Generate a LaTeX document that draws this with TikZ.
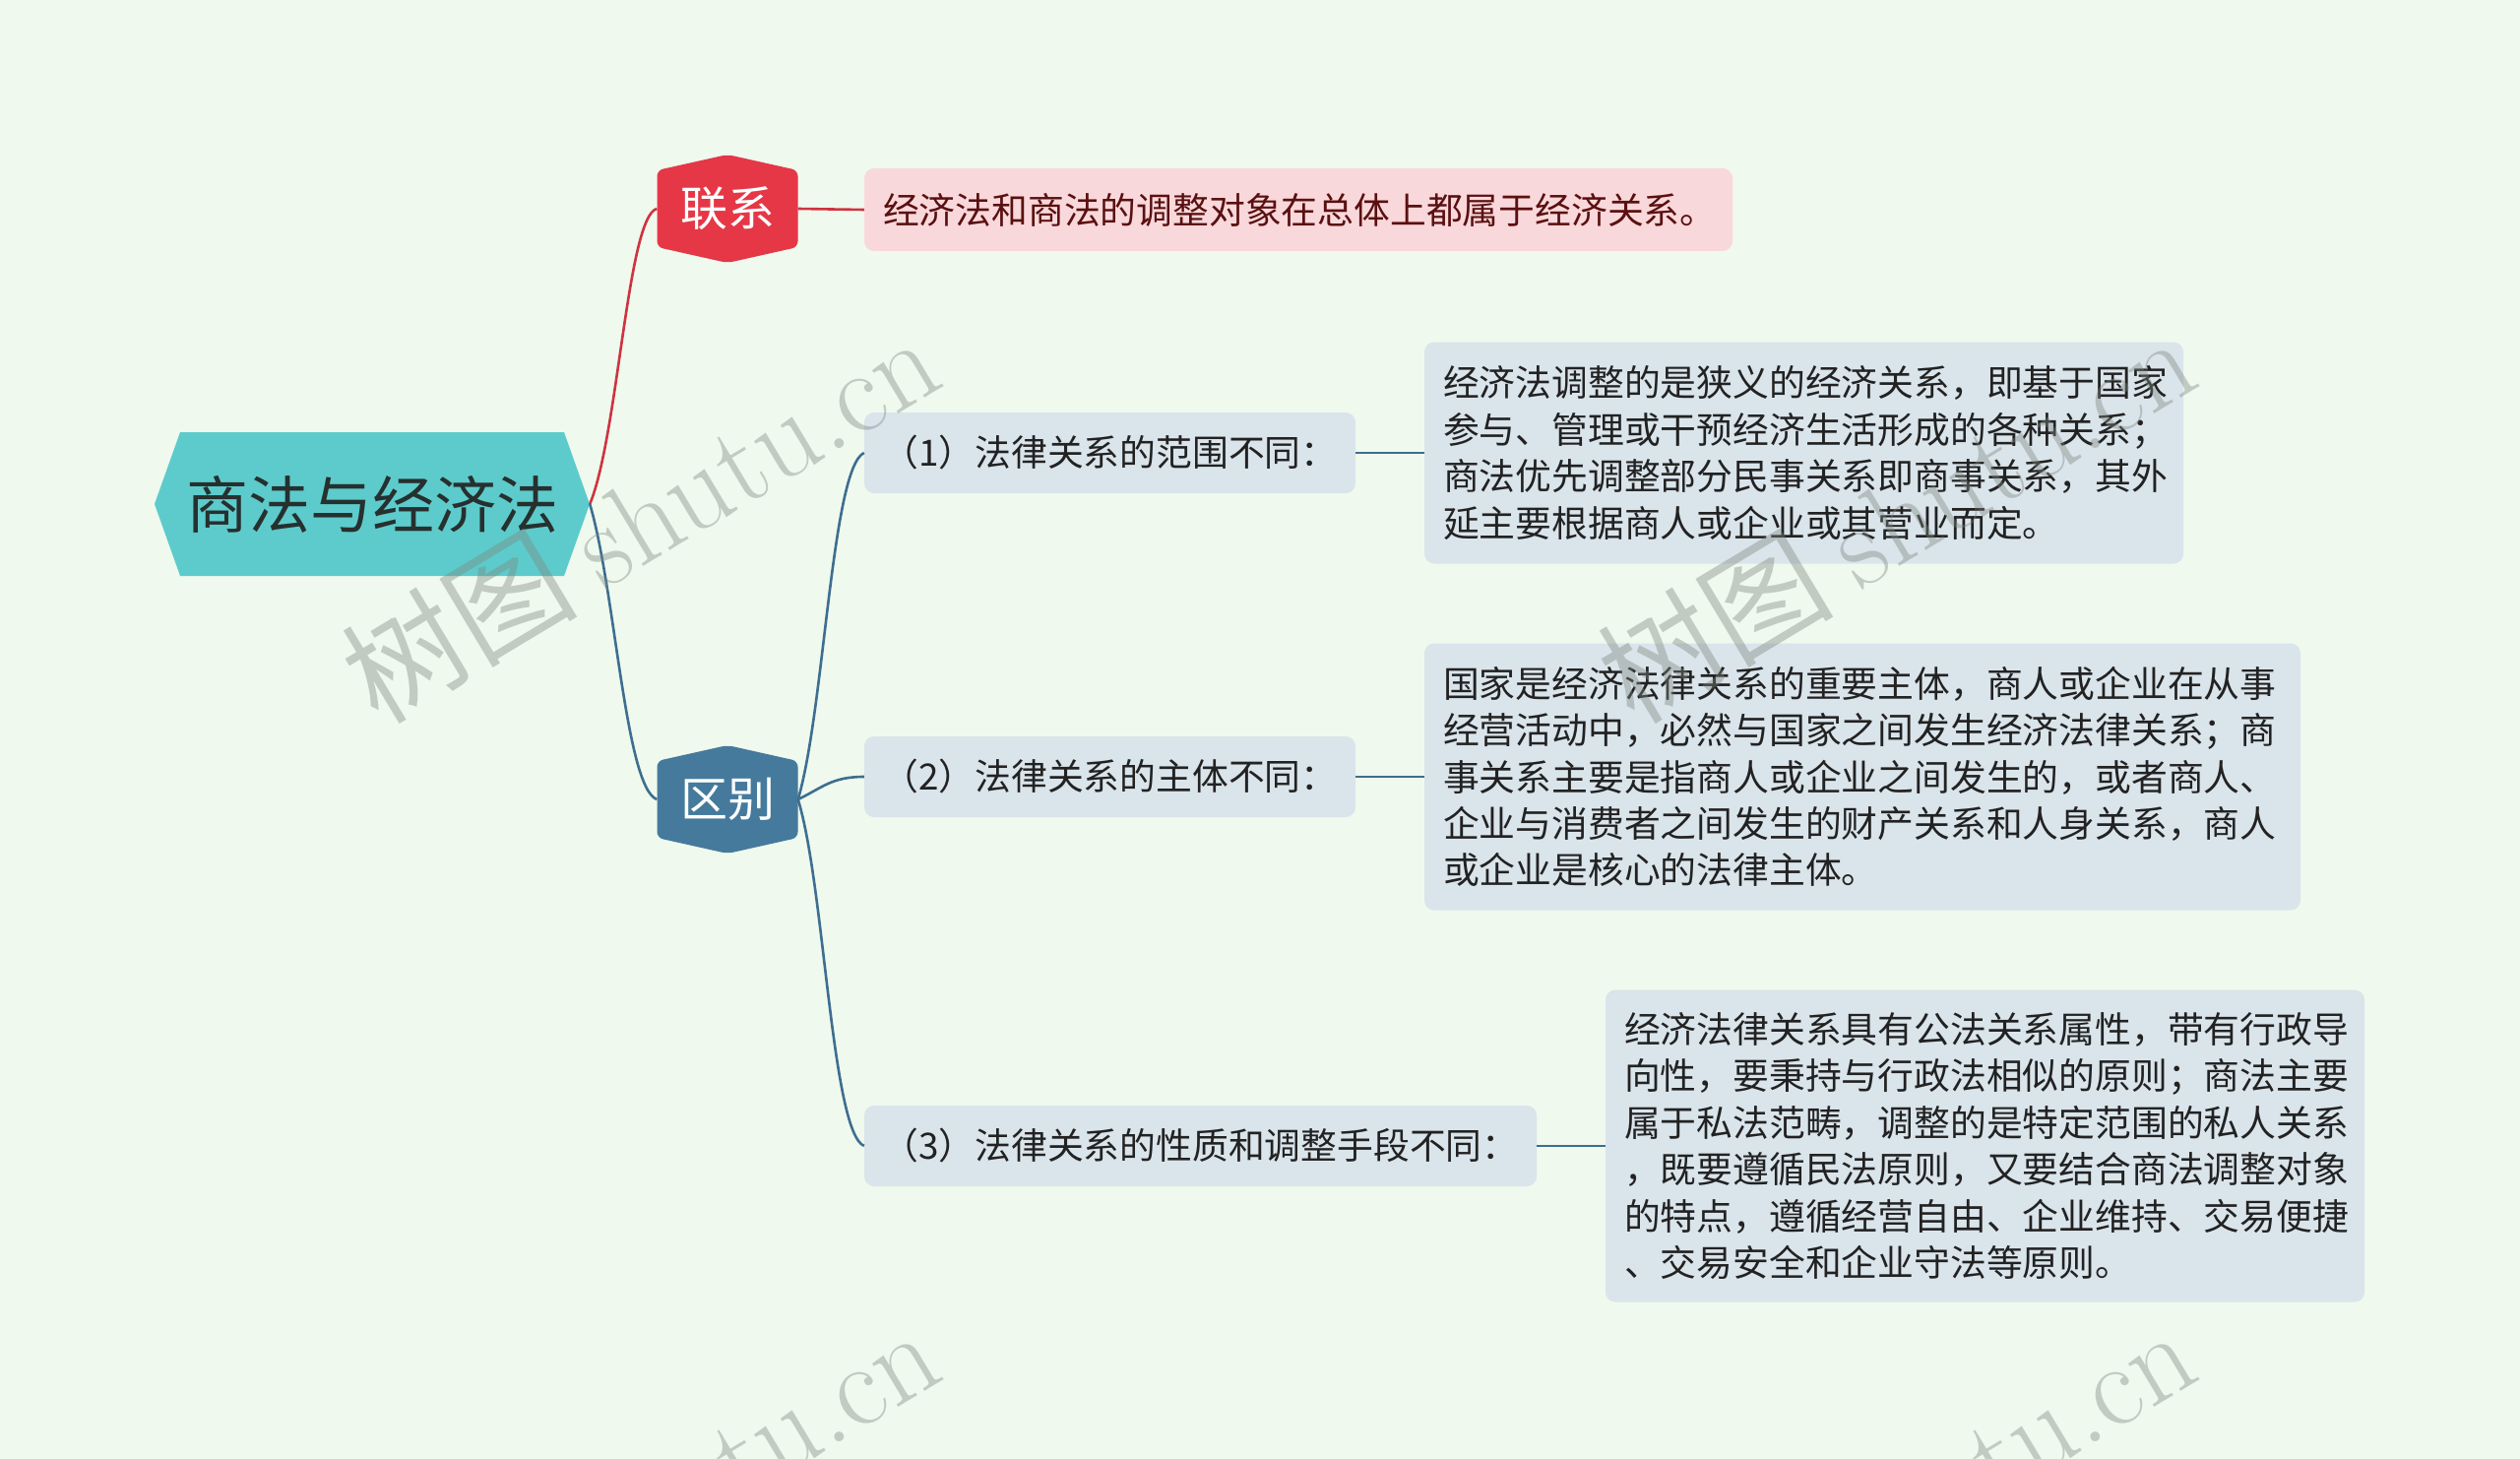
\documentclass[tikz,border=0pt]{standalone}
\usepackage{fontspec}
\newfontfamily\cjk{Noto Sans CJK SC}
\usetikzlibrary{calc}
\definecolor{bgc}{HTML}{EFF9EE}
\definecolor{rootc}{HTML}{5DCBCB}
\definecolor{roottext}{HTML}{26302F}
\definecolor{redc}{HTML}{E53746}
\definecolor{redline}{HTML}{CF3340}
\definecolor{pinkc}{HTML}{F9D8DB}
\definecolor{pinktext}{HTML}{5A1010}
\definecolor{bluec}{HTML}{457A9C}
\definecolor{blueline}{HTML}{3E6E90}
\definecolor{subc}{HTML}{DAE4EB}
\definecolor{darktext}{HTML}{222222}
\definecolor{wmc}{HTML}{7E877F}
\begin{document}
\begin{tikzpicture}[x=1pt,y=-1pt,
  rootnode/.style={minimum width=442pt, minimum height=146pt, inner sep=0pt,
    path picture={\fill[rootc] ([xshift=26pt]path picture bounding box.north west) -- ([xshift=-26pt]path picture bounding box.north east) -- (path picture bounding box.east) -- ([xshift=-26pt]path picture bounding box.south east) -- ([xshift=26pt]path picture bounding box.south west) -- (path picture bounding box.west) -- cycle;},
    font=\cjk\fontsize{63}{70}\selectfont, text=roottext},
  hexnode/.style={minimum width=143pt, minimum height=110pt, inner sep=0pt,
    path picture={\fill[#1, rounded corners=6pt] ([yshift=-16pt]path picture bounding box.north west) -- (path picture bounding box.north) -- ([yshift=-16pt]path picture bounding box.north east) -- ([yshift=16pt]path picture bounding box.south east) -- (path picture bounding box.south) -- ([yshift=16pt]path picture bounding box.south west) -- cycle;},
    font=\cjk\fontsize{48}{54}\selectfont, text=white},
  boxnode/.style={rounded corners=10pt, inner xsep=19pt, inner ysep=0pt, align=left,
    font=\cjk\fontsize{36.8}{47.4}\selectfont, text=darktext, fill=subc},
  subnode/.style={rounded corners=10pt, inner sep=0pt, align=center, minimum height=82pt,
    font=\cjk\fontsize{36.8}{47.4}\selectfont, text=darktext, fill=subc},
  redlink/.style={draw=redline, line width=2.6pt},
  bluelink/.style={draw=blueline, line width=2.6pt},
  wm/.style={text=wmc, text opacity=0.4, rotate=31, inner sep=0pt}
]
\fill[bgc] (0,0) rectangle (2560,1482);
\useasboundingbox (0,0) rectangle (2560,1482);

% nodes
\node[rootnode] (root) at (378,512) {商法与经济法};
\node[hexnode=redc] (lx) at (739,212) {联系};
\node[hexnode=bluec] (qb) at (739,812) {区别};

\node[boxnode, fill=pinkc, text=pinktext, text width=844pt, minimum height=84pt] (lf) at (1319,213)
  {经济法和商法的调整对象在总体上都属于经济关系。};

\node[subnode, minimum width=499pt] (s1) at (1127.5,460) {（1）法律关系的范围不同：};
\node[subnode, minimum width=499pt] (s2) at (1127.5,789) {（2）法律关系的主体不同：};
\node[subnode, minimum width=683pt] (s3) at (1219.5,1164) {（3）法律关系的性质和调整手段不同：};

\node[boxnode, text width=733pt, minimum height=225pt] (d1) at (1832.5,460)
  {经济法调整的是狭义的经济关系，即基于国家\\参与、管理或干预经济生活形成的各种关系；\\商法优先调整部分民事关系即商事关系，其外\\延主要根据商人或企业或其营业而定。};
\node[boxnode, text width=852pt, minimum height=271pt] (d2) at (1892,789)
  {国家是经济法律关系的重要主体，商人或企业在从事\\经营活动中，必然与国家之间发生经济法律关系；商\\事关系主要是指商人或企业之间发生的，或者商人、\\企业与消费者之间发生的财产关系和人身关系，商人\\或企业是核心的法律主体。};
\node[boxnode, text width=733pt, minimum height=317pt] (d3) at (2016.5,1164)
  {经济法律关系具有公法关系属性，带有行政导\\向性，要秉持与行政法相似的原则；商法主要\\属于私法范畴，调整的是特定范围的私人关系\\，既要遵循民法原则，又要结合商法调整对象\\的特点，遵循经营自由、企业维持、交易便捷\\、交易安全和企业守法等原则。};

% connectors
\draw[redlink] (root.east) .. controls +(29,-70) and +(-30,8) .. (lx.west);
\draw[redlink] (lx.east) -- (lf.west);
\draw[bluelink] (root.east) .. controls +(26,88) and +(-32,-12) .. (qb.west);
\draw[bluelink] (qb.east) .. controls +(27,-92) and +(-33,15) .. (s1.west);
\draw[bluelink] (qb.east) .. controls +(25,-12) and +(-33,0) .. (s2.west);
\draw[bluelink] (qb.east) .. controls +(27,88) and +(-33,-14) .. (s3.west);
\draw[bluelink] (s1.east) -- (d1.west);
\draw[bluelink] (s2.east) -- (d2.west);
\draw[bluelink] (s3.east) -- (d3.west);

% watermarks
\node[wm] (w1) at (650,525) {\cjk\fontsize{120}{120}\selectfont 树图 \rmfamily shutu.cn};
\node[wm] (w2) at (1926,525) {\cjk\fontsize{120}{120}\selectfont 树图 \rmfamily shutu.cn};
\node[wm] (w3) at (650,1534) {\cjk\fontsize{120}{120}\selectfont 树图 \rmfamily shutu.cn};
\node[wm] (w4) at (1926,1534) {\cjk\fontsize{120}{120}\selectfont 树图 \rmfamily shutu.cn};
\end{tikzpicture}
\end{document}
